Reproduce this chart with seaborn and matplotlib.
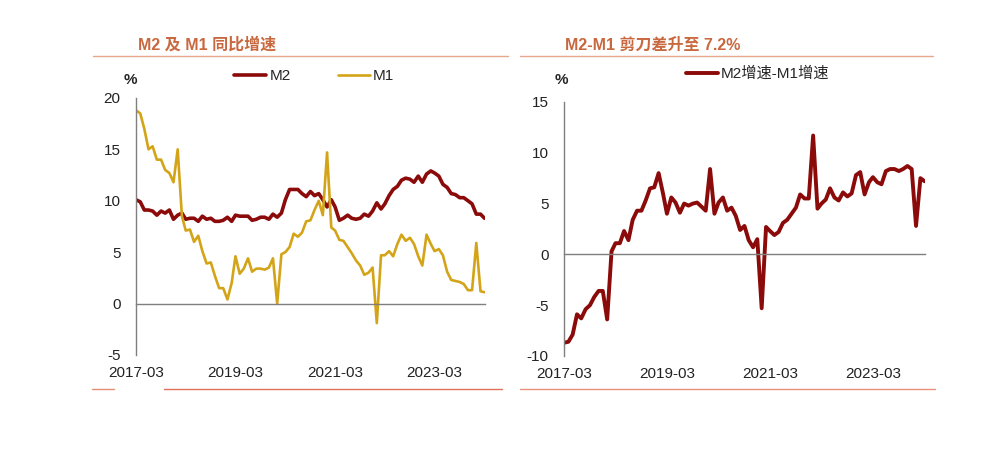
import matplotlib
matplotlib.use("Agg")
import matplotlib.pyplot as plt
from matplotlib.lines import Line2D
import seaborn as sb
import pandas as pd
import numpy as np

# monthly data 2017-03 .. 2024-03 (%)
months = pd.date_range("2017-03-01", "2024-03-01", freq="MS")

m2 = [10.1, 9.9, 9.1, 9.1, 9.0, 8.6, 9.0, 8.8, 9.1, 8.2,
      8.6, 8.8, 8.2, 8.3, 8.3, 8.0, 8.5, 8.2, 8.3, 8.0, 8.0, 8.1,
      8.4, 8.0, 8.6, 8.5, 8.5, 8.5, 8.1, 8.2, 8.4, 8.4, 8.2, 8.7,
      8.4, 8.8, 10.1, 11.1, 11.1, 11.1, 10.7, 10.4, 10.9, 10.5, 10.7, 10.1,
      9.4, 10.1, 9.4, 8.1, 8.3, 8.6, 8.3, 8.2, 8.3, 8.7, 8.5, 9.0,
      9.8, 9.2, 9.7, 10.5, 11.1, 11.4, 12.0, 12.2, 12.1, 11.8, 12.4, 11.8,
      12.6, 12.9, 12.7, 12.4, 11.6, 11.3, 10.7, 10.6, 10.3, 10.3, 10.0, 9.7,
      8.7, 8.7, 8.3]

m1 = [18.8, 18.5, 17.0, 15.0, 15.3, 14.0, 14.0, 13.0, 12.7, 11.8,
      15.0, 8.5, 7.1, 7.2, 6.0, 6.6, 5.1, 3.9, 4.0, 2.7, 1.5, 1.5,
      0.4, 2.0, 4.6, 2.9, 3.4, 4.4, 3.1, 3.4, 3.4, 3.3, 3.5, 4.4,
      0.0, 4.8, 5.0, 5.5, 6.8, 6.5, 6.9, 8.0, 8.1, 9.1, 10.0, 8.6,
      14.7, 7.4, 7.1, 6.2, 6.1, 5.5, 4.9, 4.2, 3.7, 2.8, 3.0, 3.5,
      -1.9, 4.7, 4.7, 5.1, 4.6, 5.8, 6.7, 6.1, 6.4, 5.8, 4.6, 3.7,
      6.7, 5.8, 5.1, 5.3, 4.7, 3.1, 2.3, 2.2, 2.1, 1.9, 1.3, 1.3,
      5.9, 1.2, 1.1]

spread = [-8.7, -8.6, -7.9, -5.9, -6.3, -5.4, -5.0, -4.2, -3.6, -3.6,
          -6.4, 0.3, 1.1, 1.1, 2.3, 1.4, 3.4, 4.3, 4.3, 5.3, 6.5, 6.6,
          8.0, 6.0, 4.0, 5.6, 5.1, 4.1, 5.0, 4.8, 5.0, 5.1, 4.7, 4.3,
          8.4, 4.0, 5.1, 5.6, 4.3, 4.6, 3.8, 2.4, 2.8, 1.4, 0.7, 1.5,
          -5.3, 2.7, 2.3, 1.9, 2.2, 3.1, 3.4, 4.0, 4.6, 5.9, 5.5, 5.5,
          11.7, 4.5, 5.0, 5.4, 6.5, 5.6, 5.3, 6.1, 5.7, 6.0, 7.8, 8.1,
          5.9, 7.1, 7.6, 7.1, 6.9, 8.2, 8.4, 8.4, 8.2, 8.4, 8.7, 8.4,
          2.8, 7.5, 7.2]

tick_labels = ["2017-03", "2019-03", "2021-03", "2023-03"]

df = pd.DataFrame({"date": months, "M2": m2, "M1": m1, "spread": spread})

sb.set_style("white")
plt.rcParams["font.family"] = ["Liberation Sans", "Noto Sans CJK SC", "DejaVu Sans"]

c_m2 = "#8B0A0A"
c_m1 = "#D4A418"
c_title = "#C8683F"
c_rule = "#E8A68E"
c_axis = "#7F7F7F"

fig = plt.figure(figsize=(9.84, 4.61), dpi=100)
ax1 = fig.add_axes([0.1382, 0.2300, 0.3547, 0.5575])
ax2 = fig.add_axes([0.5732, 0.2278, 0.3669, 0.5510])

sb.lineplot(data=df, x="date", y="M2", ax=ax1, color=c_m2, lw=2.6, label="M2", legend=False)
sb.lineplot(data=df, x="date", y="M1", ax=ax1, color=c_m1, lw=1.9, label="M1", legend=False)
sb.lineplot(data=df, x="date", y="spread", ax=ax2, color=c_m2, lw=2.8, legend=False)

ticks = pd.to_datetime(tick_labels)
xend = pd.Timestamp("2024-03-05")

for ax, ylim, yt, xpad, tdir in [(ax1, (-5, 20), [-5, 0, 5, 10, 15, 20], 42, "out"),
                                  (ax2, (-10, 15), [-10, -5, 0, 5, 10, 15], 81, "in")]:
    ax.set_xlim(pd.Timestamp("2017-03-01"), xend)
    ax.set_ylim(*ylim)
    ax.set_yticks(yt)
    ax.set_yticklabels([str(v) for v in yt])
    ax.set_xticks(ticks)
    ax.set_xticklabels(tick_labels)
    ax.set_xlabel("")
    ax.set_ylabel("")
    for s in ["top", "right"]:
        ax.spines[s].set_visible(False)
    ax.spines["bottom"].set_position(("data", 0))
    for s in ["left", "bottom"]:
        ax.spines[s].set_color(c_axis)
        ax.spines[s].set_linewidth(1.0)
    ax.tick_params(axis="y", direction="out", length=3, width=1, color=c_axis,
                   labelsize=11, pad=8, labelcolor="#222222")
    ax.tick_params(axis="x", direction=tdir, length=3, width=1, color=c_axis,
                   labelsize=11, pad=xpad, labelcolor="#222222")
    ax.patch.set_alpha(0)

# titles and rules
fig.text(0.140, 0.902, "M2 及 M1 同比增速", color=c_title, fontsize=11.5,
         fontweight="bold", va="center", ha="left")
fig.text(0.574, 0.902, "M2-M1 剪刀差升至 7.2%", color=c_title, fontsize=11.5,
         fontweight="bold", va="center", ha="left")
fig.add_artist(Line2D([0.0945, 0.516], [0.879, 0.879], color=c_rule, lw=1.0))
fig.add_artist(Line2D([0.528, 0.948], [0.879, 0.879], color=c_rule, lw=1.0))
fig.add_artist(Line2D([0.093, 0.116], [0.156, 0.156], color="#E88C74", lw=1.0))
fig.add_artist(Line2D([0.167, 0.510], [0.156, 0.156], color="#E07058", lw=1.0))
fig.add_artist(Line2D([0.528, 0.950], [0.156, 0.156], color="#E8907A", lw=1.0))

fig.text(0.132, 0.827, "%", fontsize=11, fontweight="bold", ha="center", va="center")
fig.text(0.570, 0.827, "%", fontsize=11, fontweight="bold", ha="center", va="center")

h1, l1 = ax1.get_legend_handles_labels()
fig.legend(h1, l1, loc="center left", bbox_to_anchor=(0.238, 0.835), ncol=2,
           frameon=False, fontsize=11, handlelength=2.1, handletextpad=0.2,
           columnspacing=3.1, borderaxespad=0, borderpad=0)
fig.legend([Line2D([], [], color=c_m2, lw=2.8)], ["M2增速-M1增速"], loc="center left",
           bbox_to_anchor=(0.697, 0.840), frameon=False, fontsize=11,
           handlelength=2.1, handletextpad=0.2, borderaxespad=0, borderpad=0)

fig.savefig("out.png", dpi=100)
